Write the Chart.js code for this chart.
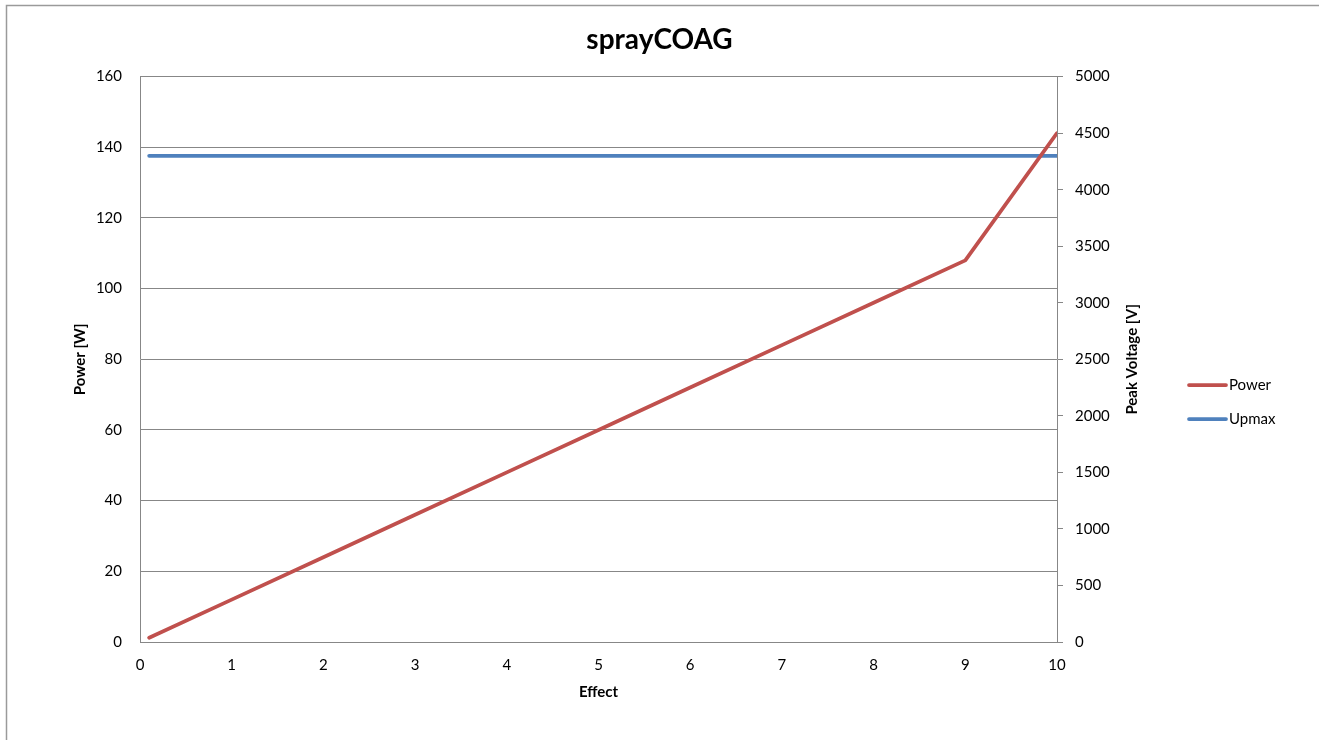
<!DOCTYPE html>
<html>
<head>
<meta charset="utf-8">
<title>sprayCOAG</title>
<script src="https://cdn.jsdelivr.net/npm/chart.js@4.4.1/dist/chart.umd.min.js"></script>
<style>
  html, body { margin: 0; padding: 0; background: #fff; }
  #wrap { position: relative; width: 1319px; height: 740px; }
</style>
</head>
<body>
<div id="wrap"><canvas id="chart" width="1319" height="740"></canvas></div>
<script>
// Effect setting vs. output power and peak voltage
const effect = [0.1, 1, 2, 3, 4, 5, 6, 7, 8, 9, 10];
const power = [1.2, 12, 24, 36, 48, 60, 72, 84, 96, 108, 144];      // W
const upmax = [4300, 4300, 4300, 4300, 4300, 4300, 4300, 4300, 4300, 4300, 4300]; // V

// Axis ticks
const effectTicks = [0, 1, 2, 3, 4, 5, 6, 7, 8, 9, 10];
const powerTicks = [0, 20, 40, 60, 80, 100, 120, 140, 160];
const voltageTicks = [0, 500, 1000, 1500, 2000, 2500, 3000, 3500, 4000, 4500, 5000];

const chartTitle = 'sprayCOAG';
const effectTitle = 'Effect';
const powerTitle = 'Power [W]';
const voltageTitle = 'Peak Voltage [V]';

const FONT = 'Lato, "Open Sans", sans-serif';
const GRID = '#878787';

const toPoints = (xs, ys) => xs.map((x, i) => ({ x: x, y: ys[i] }));
const setTicks = list => scale => { scale.ticks = list.map(v => ({ value: v })); };
const plain = v => String(v);   // no thousands separators

// Outer frame, right axis title (reads bottom-to-top) and the side legend
const excelFrame = {
    id: 'excelFrame',
    beforeDraw(chart) {
        const ctx = chart.ctx;
        ctx.save();
        ctx.strokeStyle = '#9a9a9a';
        ctx.lineWidth = 1.5;
        ctx.beginPath();
        ctx.moveTo(6.5, chart.height);
        ctx.lineTo(6.5, 5.5);
        ctx.lineTo(chart.width, 5.5);
        ctx.stroke();
        ctx.restore();
    },
    afterDraw(chart) {
        const ctx = chart.ctx;
        const area = chart.chartArea;
        const y1 = chart.scales.y1;

        ctx.save();
        ctx.fillStyle = '#000';
        ctx.font = 'bold 15px ' + FONT;
        ctx.textAlign = 'center';
        ctx.textBaseline = 'middle';
        ctx.translate(y1.left + 75, (area.top + area.bottom) / 2);
        ctx.rotate(-Math.PI / 2);
        ctx.fillText(voltageTitle, 0, 0);
        ctx.restore();

        ctx.save();
        ctx.font = '15px ' + FONT;
        ctx.textAlign = 'left';
        ctx.textBaseline = 'middle';
        chart.data.datasets.forEach((ds, i) => {
            const y = 385 + i * 34;
            ctx.strokeStyle = ds.borderColor;
            ctx.lineWidth = ds.borderWidth;
            ctx.lineCap = 'round';
            ctx.beginPath();
            ctx.moveTo(1189, y);
            ctx.lineTo(1226, y);
            ctx.stroke();
            ctx.fillStyle = '#000';
            ctx.fillText(ds.label, 1229, y);
        });
        ctx.restore();
    }
};

new Chart(document.getElementById('chart'), {
    type: 'line',
    data: {
        datasets: [{
            label: 'Power',
            data: toPoints(effect, power),
            yAxisID: 'y',
            borderColor: '#C0504D',
            borderWidth: 3.75,
            borderCapStyle: 'round',
            borderJoinStyle: 'round',
            pointRadius: 0,
            tension: 0
        }, {
            label: 'Upmax',
            data: toPoints(effect, upmax),
            yAxisID: 'y1',
            borderColor: '#4F81BD',
            borderWidth: 3.75,
            borderCapStyle: 'round',
            borderJoinStyle: 'round',
            pointRadius: 0,
            tension: 0
        }]
    },
    options: {
        responsive: false,
        animation: false,
        devicePixelRatio: 1,
        layout: { padding: 0 },
        plugins: {
            legend: { display: false },
            tooltip: { enabled: false },
            title: {
                display: true,
                text: chartTitle,
                color: '#000',
                font: { family: FONT, size: 28, weight: 'bold' },
                padding: { top: 23, bottom: 20 }
            }
        },
        scales: {
            x: {
                type: 'linear',
                position: 'bottom',
                min: 0,
                max: 10,
                afterBuildTicks: setTicks(effectTicks),
                afterFit: s => { s.height = 98; },
                grid: { display: false, drawTicks: false },
                border: { color: GRID, width: 1 },
                ticks: {
                    color: '#000',
                    padding: 14,
                    callback: plain,
                    font: { family: FONT, size: 15 }
                },
                title: {
                    display: true,
                    text: effectTitle,
                    color: '#000',
                    font: { family: FONT, size: 15, weight: 'bold' },
                    padding: { top: 0, bottom: 39 }
                }
            },
            y: {
                type: 'linear',
                position: 'left',
                min: 0,
                max: 160,
                afterBuildTicks: setTicks(powerTicks),
                afterFit: s => { s.width = 140; },
                grid: { color: GRID, lineWidth: 1, drawTicks: false },
                border: { color: GRID, width: 1 },
                ticks: {
                    color: '#000',
                    padding: 18,
                    callback: plain,
                    font: { family: FONT, size: 15 }
                },
                title: {
                    display: true,
                    text: powerTitle,
                    color: '#000',
                    font: { family: FONT, size: 15, weight: 'bold' },
                    padding: { top: 71, bottom: 0 }
                }
            },
            y1: {
                type: 'linear',
                position: 'right',
                min: 0,
                max: 5000,
                afterBuildTicks: setTicks(voltageTicks),
                afterFit: s => { s.width = 262; },
                grid: { color: GRID, drawOnChartArea: false, drawTicks: true, tickLength: 6 },
                border: { color: GRID, width: 1 },
                ticks: {
                    color: '#000',
                    padding: 12,
                    callback: plain,
                    font: { family: FONT, size: 15 }
                }
            }
        }
    },
    plugins: [excelFrame]
});
</script>
</body>
</html>
